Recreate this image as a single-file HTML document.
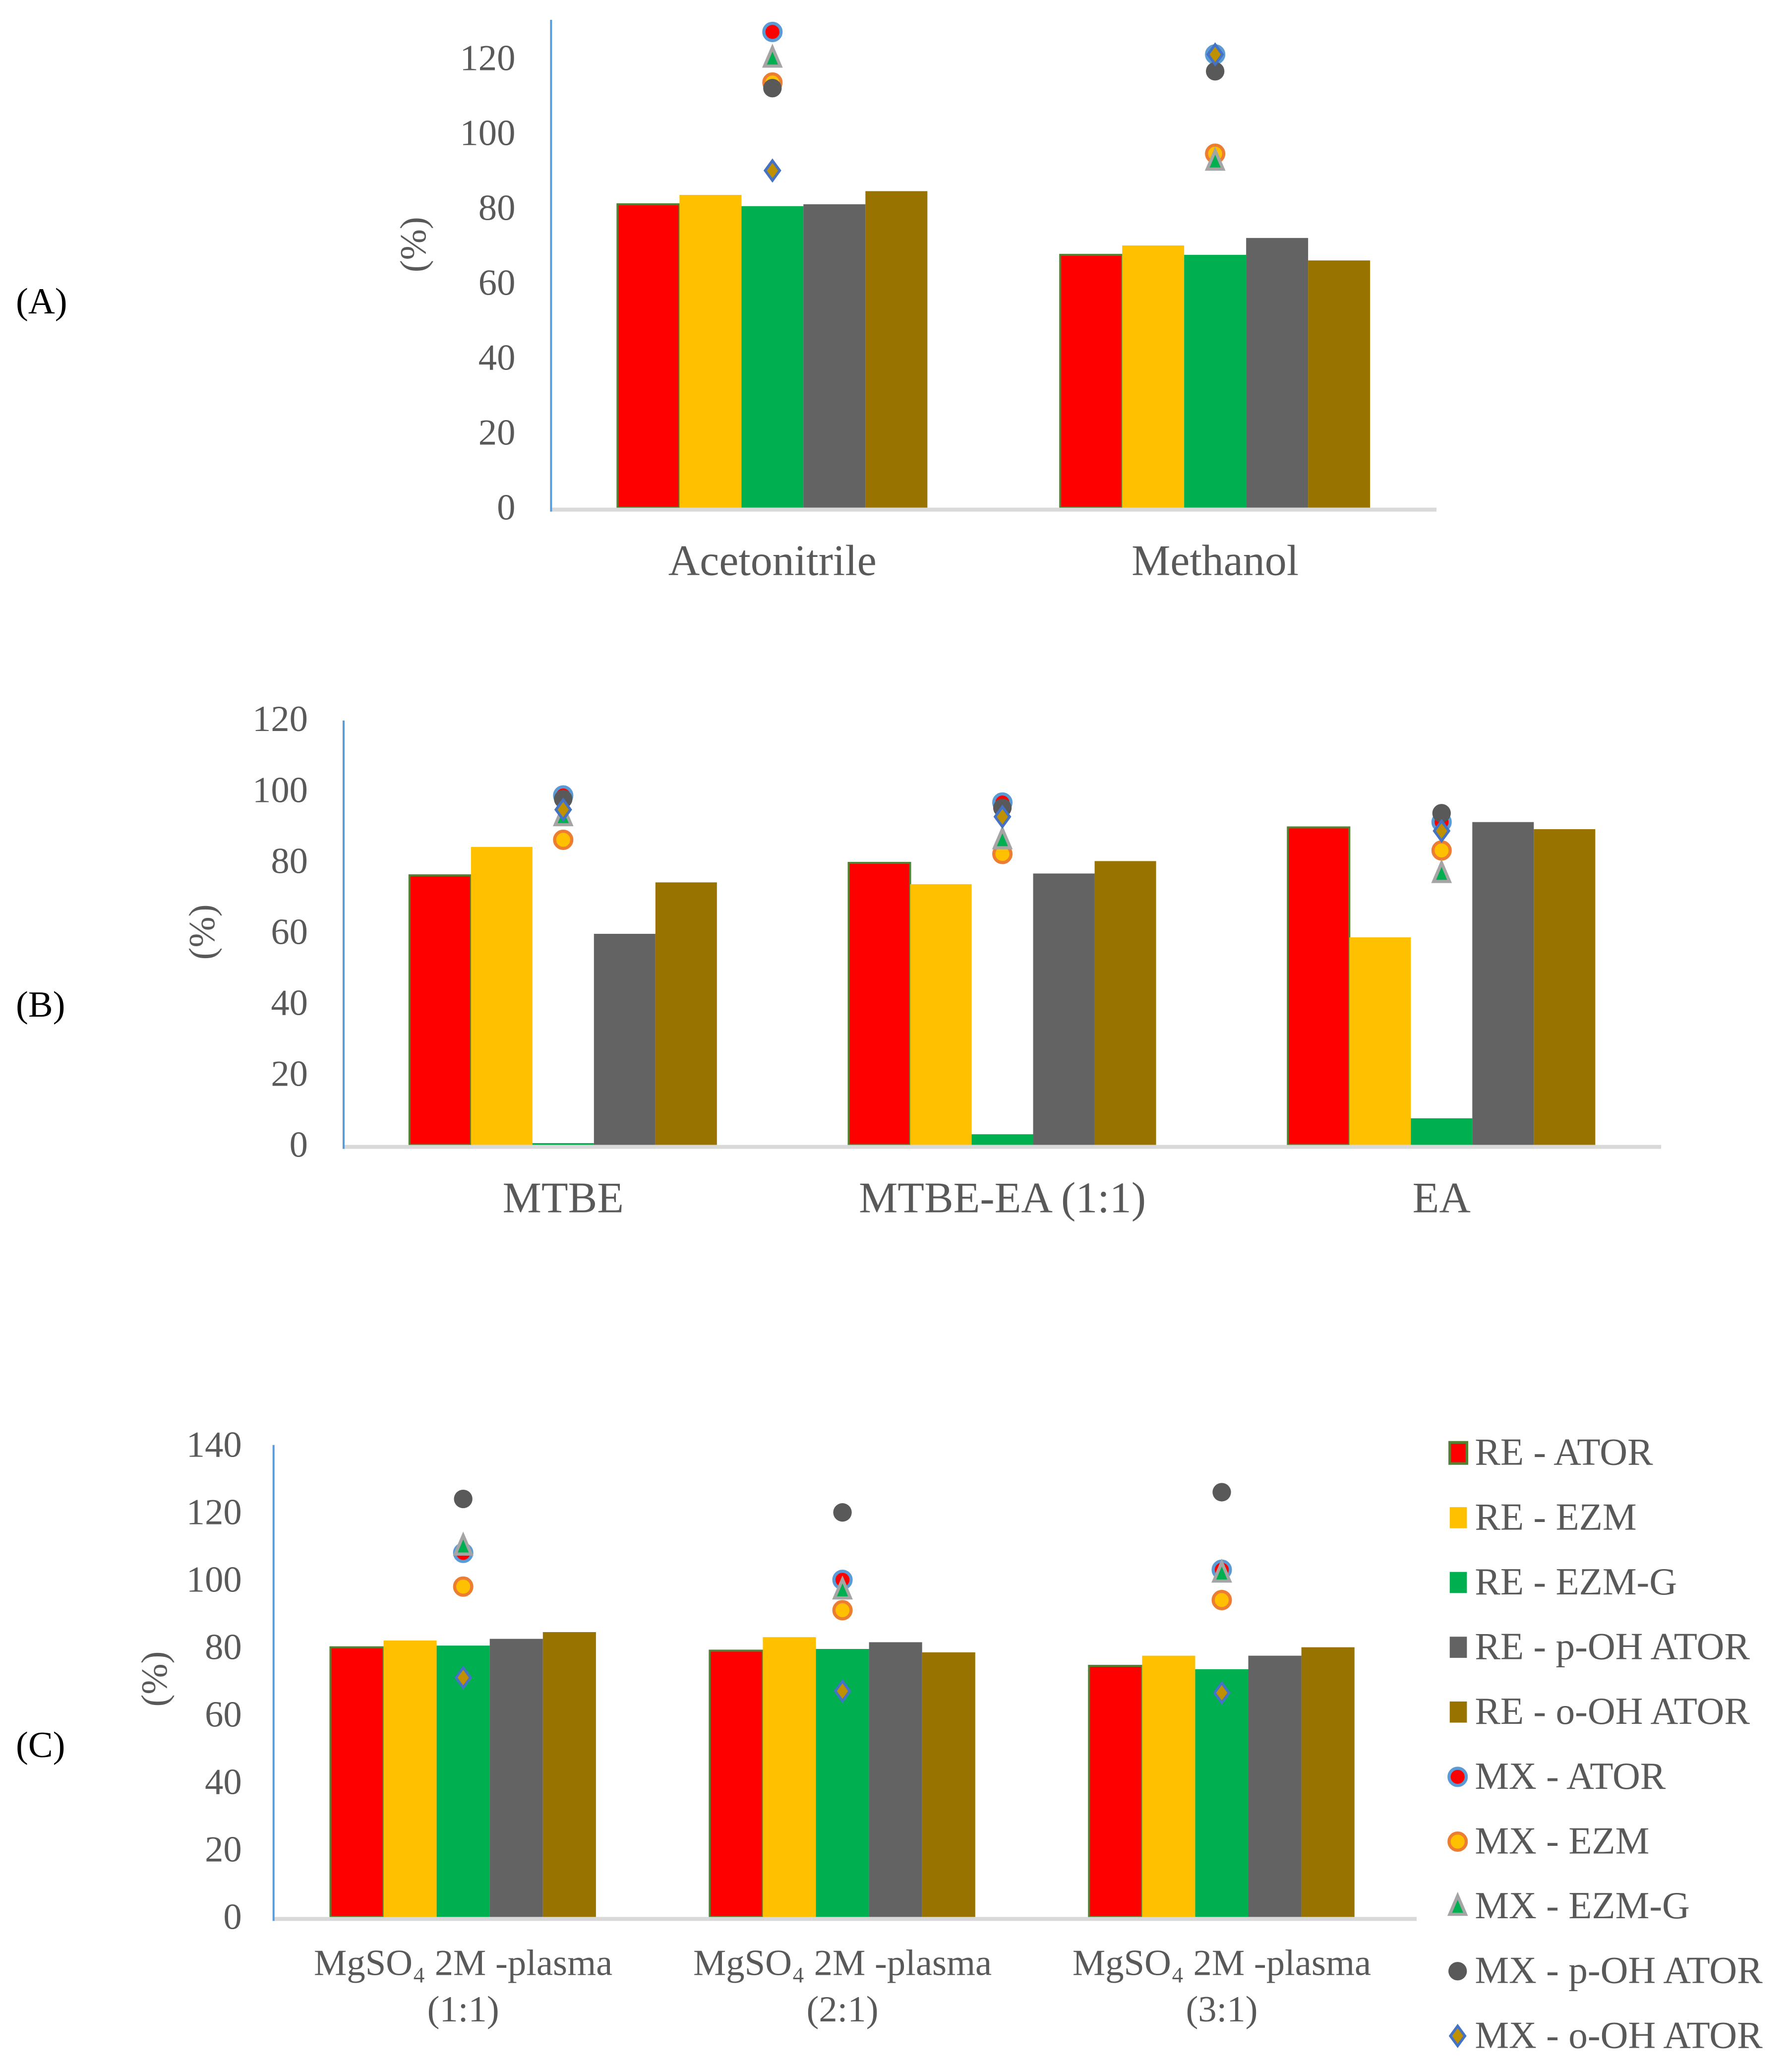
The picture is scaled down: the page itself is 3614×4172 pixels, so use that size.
<!DOCTYPE html>
<html><head><meta charset="utf-8"><style>
html,body{margin:0;padding:0;background:#fff;}
svg{display:block;}
</style></head><body>
<svg id="fig" width="3614" height="4172" viewBox="0 0 1356 1565" preserveAspectRatio="none" xmlns="http://www.w3.org/2000/svg" font-family="'Liberation Serif', serif">
</svg>
<script>
// ---- data ----
const seriesNames = ["ATOR","EZM","EZM-G","p-OH ATOR","o-OH ATOR"];
const catsA = ["Acetonitrile","Methanol"];
const reA = [[81,67.5],[83.5,70],[80.5,67.5],[81,72],[84.5,66]];
const mxA = [[127,121],[113.5,94.5],[120,92.5],[112,116.5],[90,121]];
const ticksA = [0,20,40,60,80,100,120];
const catsB = ["MTBE","MTBE-EA (1:1)","EA"];
const reB = [[76,79.5,89.5],[84,73.5,58.5],[0.5,3,7.5],[59.5,76.5,91],[74,80,89]];
const mxB = [[98.5,96.5,91],[86,82,83],[92.5,86,76.5],[97.5,95,93.5],[94.5,92.5,88.5]];
const ticksB = [0,20,40,60,80,100,120];
const catsC1 = ["MgSO\u2084 2M -plasma","MgSO\u2084 2M -plasma","MgSO\u2084 2M -plasma"];
const catsC2 = ["(1:1)","(2:1)","(3:1)"];
const reC = [[80,79,74.5],[82,83,77.5],[80.5,79.5,73.5],[82.5,81.5,77.5],[84.5,78.5,80]];
const mxC = [[108,100,103],[98,91,94],[110,97,102],[124,120,126],[71,67,66.5]];
const ticksC = [0,20,40,60,80,100,120,140];

const barColors = ["#ff0000","#ffc000","#00b050","#636363","#997300"];
const NS = "http://www.w3.org/2000/svg";
const svg = document.getElementById('fig');
function mk(tag, attrs, parent){const e=document.createElementNS(NS,tag);for(const k in attrs)e.setAttribute(k,attrs[k]);(parent||svg).appendChild(e);return e;}

function marker(g, s, cx, cy){
  let e;
  if(s===0){e=mk('circle',{cx:cx,cy:cy,r:6.5,fill:'#ff0000',stroke:'#5b9bd5','stroke-width':2.4},g);}
  else if(s===1){e=mk('circle',{cx:cx,cy:cy,r:6.5,fill:'#ffc000',stroke:'#ed7d31','stroke-width':2.4},g);}
  else if(s===2){e=mk('polygon',{points:`${cx},${cy-8} ${cx+6},${cy+6} ${cx-6},${cy+6}`,fill:'#00b050',stroke:'#a5a5a5','stroke-width':2.4},g);}
  else if(s===3){e=mk('circle',{cx:cx,cy:cy,r:7,fill:'#595959'},g);}
  else {e=mk('polygon',{points:`${cx},${cy-7.5} ${cx+5.5},${cy} ${cx},${cy+7.5} ${cx-5.5},${cy}`,fill:'#bf9000',stroke:'#4472c4','stroke-width':2},g);}
  return e;
}

function chart(opt){
  const g = mk('g',{});
  
  
  const {x0,x1,y0,yTop,vmax,cats,re,mx,ticks} = opt;
  const yS = v => y0 - (v/vmax)*(y0-yTop);
  const n = cats.length;
  const cw = (x1-x0)/n;
  const bw = cw*0.7/5;
  ticks.forEach(t=>{
    const tx = mk('text',{x:opt.tickX,y:yS(t)+9,'text-anchor':'end','font-size':28,fill:'#595959'},g);
    tx.textContent = t;
    
    
  });
  for(let s=0;s<5;s++){
    for(let c=0;c<n;c++){
      const cx = x0 + cw*(c+0.5);
      const bx = cx - cw*0.35 + s*bw;
      const v = re[s][c];
      const r = mk('rect',{x:bx,y:yS(v),width:bw,height:y0-yS(v),fill:barColors[s]},g);
      if(s===0){r.setAttribute('stroke','#548235');r.setAttribute('stroke-width',1.5);}
      
      
    }
  }
  const ax = mk('line',{x1:x0,y1:y0+1.5,x2:x1+opt.xExt,y2:y0+1.5,stroke:'#d9d9d9','stroke-width':3},g);
  
  
  const ay = mk('line',{x1:x0,y1:opt.axTop,x2:x0,y2:y0+3,stroke:'#5b9bd5','stroke-width':1.5},g);
  
  
  for(let s=0;s<5;s++){
    for(let c=0;c<n;c++){
      const cx = x0 + cw*(c+0.5);
      const m = marker(g,s,cx,yS(mx[s][c]));
      
      
    }
  }
  for(let c=0;c<n;c++){
    const cx = x0 + cw*(c+0.5);
    const t = mk('text',{x:cx,y:opt.catY,'text-anchor':'middle','font-size':opt.catFs,fill:'#595959'},g);
    t.textContent = cats[c];
    
    
    if(opt.cats2){
      const t2 = mk('text',{x:cx,y:opt.catY+35,'text-anchor':'middle','font-size':opt.catFs,fill:'#595959'},g);
      t2.textContent = opt.cats2[c];
      
      
    }
  }
  const yt = mk('text',{x:opt.ytX,y:opt.ytY,'text-anchor':'middle','font-size':28,fill:'#595959',transform:`rotate(-90 ${opt.ytX} ${opt.ytY})`},g);
  yt.textContent='(%)';
  
  
  const pl = mk('text',{x:12,y:opt.plY,'font-size':28,fill:'#000'},g);
  pl.textContent = opt.panel;
  
  
}

chart({name:'chart-a',x0:417,x1:1087,xExt:0,y0:384,yTop:44,vmax:120,axTop:15,cats:catsA,re:reA,mx:mxA,ticks:ticksA,tickX:390,catY:435,catFs:33,ytX:322,ytY:185,panel:'(A)',plY:237});
chart({name:'chart-b',x0:260,x1:1257,xExt:0,y0:866,yTop:544,vmax:120,axTop:545,cats:catsB,re:reB,mx:mxB,ticks:ticksB,tickX:233,catY:917,catFs:33,ytX:162,ytY:705,panel:'(B)',plY:769});
chart({name:'chart-c',x0:207,x1:1068,xExt:4,y0:1450,yTop:1093,vmax:140,axTop:1093,cats:catsC1,cats2:catsC2,re:reC,mx:mxC,ticks:ticksC,tickX:183,catY:1494,catFs:28,ytX:126,ytY:1270,panel:'(C)',plY:1329});

const legNames = ["RE - ATOR","RE - EZM","RE - EZM-G","RE - p-OH ATOR","RE - o-OH ATOR","MX - ATOR","MX - EZM","MX - EZM-G","MX - p-OH ATOR","MX - o-OH ATOR"];
const lg = mk('g',{});


legNames.forEach((nm,i)=>{
  const y = 1099 + i*49;
  const eg = mk('g',{},lg);
  
  
  if(i<5){
    const r = mk('rect',{x:1097,y:y-8,width:13,height:16,fill:barColors[i]},eg);
    if(i===0){r.setAttribute('stroke','#548235');r.setAttribute('stroke-width',2);}
  } else {
    marker(eg,i-5,1103,y);
  }
  const t = mk('text',{x:1116,y:y+9,'font-size':29,fill:'#595959'},eg);
  t.textContent = nm;
});
</script>
</body></html>
